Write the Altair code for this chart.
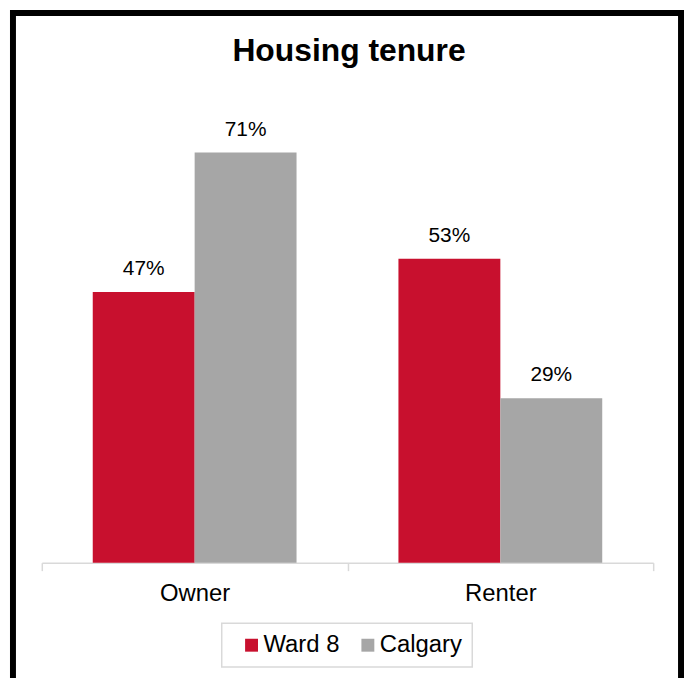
import altair as alt
import pandas as pd

# ---- data ----
categories = ["Owner", "Renter"]
series = ["Ward 8", "Calgary"]
ward8_values = [0.471, 0.529]
calgary_values = [0.714, 0.286]
series_colors = ["#C8102E", "#A6A6A6"]
chart_title = "Housing tenure"

rows = []
for i, c in enumerate(categories):
    rows.append({"tenure": c, "area": series[0], "share": ward8_values[i]})
    rows.append({"tenure": c, "area": series[1], "share": calgary_values[i]})
df = pd.DataFrame(rows)

FONT = "Liberation Sans"

x_enc = alt.X(
    "tenure:N",
    sort=categories,
    scale=alt.Scale(range=[34, 649], paddingInner=0, paddingOuter=0),
    axis=alt.Axis(
        title=None, labelAngle=0, labelFontSize=24, labelFont=FONT, labelColor="#000000",
        labelPadding=11, tickBand="extent", tickSize=8, tickColor="#d9d9d9", tickWidth=1.5,
        domainColor="#d9d9d9", domainWidth=1.5, offset=-114, grid=False,
    ),
)
xoff_enc = alt.XOffset("area:N", sort=series, scale=alt.Scale(paddingInner=0, paddingOuter=0.5))
y_enc = alt.Y("share:Q", scale=alt.Scale(domain=[0, 0.9], range=[556, 35.8]), axis=None)
color_enc = alt.Color(
    "area:N", sort=series,
    scale=alt.Scale(domain=series, range=series_colors),
    legend=alt.Legend(
        title="\u200b", titleOrient="left", titlePadding=8, titleFontSize=4,
        orient="none", legendX=215, legendY=617, direction="horizontal",
        symbolType="square", symbolSize=169, symbolStrokeWidth=0,
        labelFont=FONT, labelFontSize=24, labelColor="#000000", labelOffset=0,
        columnPadding=16, padding=10, strokeColor="#d9d9d9", fillColor="#ffffff",
    ),
)

base = alt.Chart(df)

bars = base.mark_bar().encode(x=x_enc, xOffset=xoff_enc, y=y_enc, color=color_enc)

labels = base.mark_text(
    font=FONT, fontSize=21, color="#000000", baseline="alphabetic", dy=-17
).encode(
    x=x_enc, xOffset=xoff_enc, y=y_enc, text=alt.Text("share:Q", format=".0%")
)

frame = alt.Chart(alt.Data(values=[{}])).mark_rect(
    fillOpacity=0, stroke="#000000", strokeWidth=6
).encode(
    x=alt.value(5), x2=alt.value(677), y=alt.value(3), y2=alt.value(740)
)

chart = alt.layer(frame, bars, labels).properties(
    width=680, height=670, padding=0,
    autosize=alt.AutoSizeParams(type="none"),
    title=alt.Title(
        chart_title, font=FONT, fontSize=32, fontWeight="bold", color="#000000",
        anchor="middle", frame="group", offset=-83, baseline="alphabetic", dx=3,
    ),
).configure_view(strokeWidth=0).configure_legend(strokeWidth=1.5)

chart.save("out.html", embed_options={"renderer": "svg", "actions": False})
